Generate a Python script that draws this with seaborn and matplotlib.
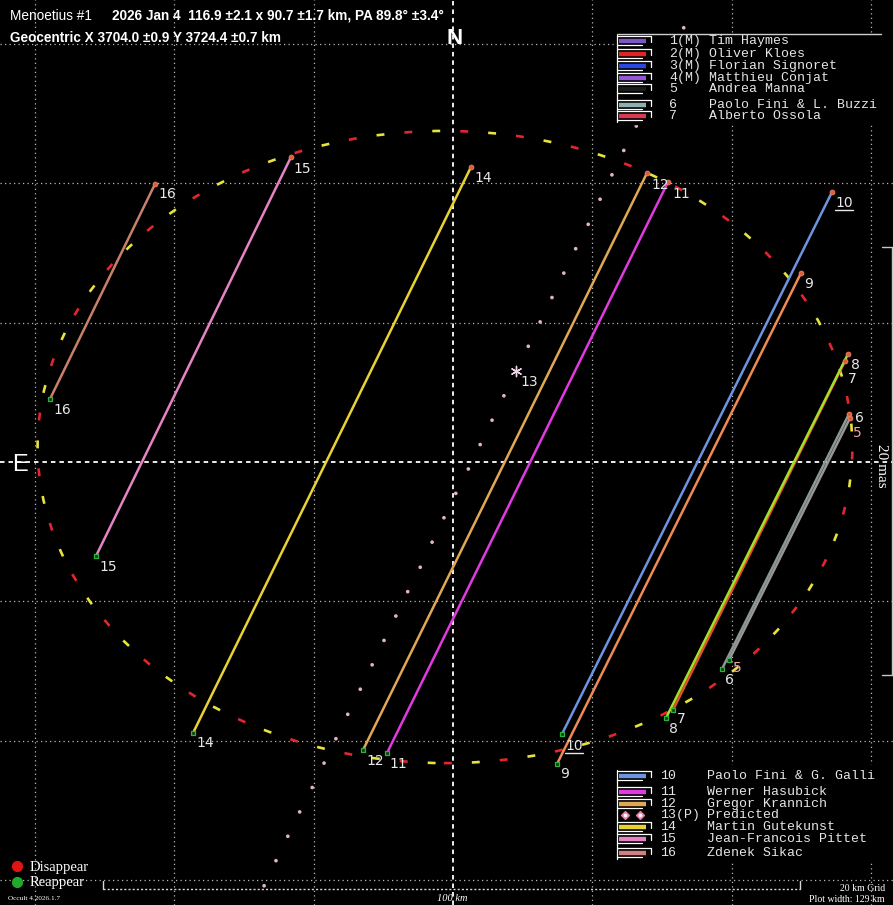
import numpy as np
import pandas as pd
import matplotlib
matplotlib.use("Agg")
import matplotlib.pyplot as plt
import matplotlib.transforms as mtransforms
from matplotlib.patches import Ellipse, Rectangle
import seaborn as sns

# ---------------- chords (km on the sky plane; x to the right, y north) ----------------
chord_ids = ["6", "5", "7", "8", "9", "10", "11", "12", "14", "15", "16"]
chord_colors = ["#8c9898", "#979797", "#e2502e", "#a6e02c", "#f08a52", "#6c94e0",
                "#e03ae0", "#e0a852", "#e8d233", "#e484c4", "#c8806a"]
disappear_x = [56.81, 56.96, 56.24, 56.67, 49.93, 54.38, 30.85, 27.83, 2.58, -23.24, -42.75]
disappear_y = [6.89, 6.31, 14.49, 15.49, 27.12, 38.74, 40.17, 41.46, 42.32, 43.76, 39.89]
reappear_x = [38.59, 39.60, 31.56, 30.56, 14.92, 15.64, -9.47, -12.91, -37.30, -51.22, -57.82]
reappear_y = [-29.70, -28.41, -35.58, -36.73, -43.33, -39.02, -41.75, -41.32, -38.88, -13.49, 9.04]

# predicted track of the centre (13(P)) and the predicted position
predicted_x = [33.1, 31.4, 29.7, 28.0, 26.3, 24.5, 22.8, 21.1, 19.4, 17.6, 15.9, 14.2,
               12.5, 10.8, 7.3, 5.6, 3.9, 2.2, 0.4, -1.3, -3.0, -4.7, -6.5, -8.2,
               -9.9, -11.6, -13.3, -15.1, -16.8, -18.5, -20.2, -22.0, -23.7, -25.4, -27.1]
predicted_y = [62.3, 58.8, 55.2, 51.7, 48.2, 44.7, 41.2, 37.7, 34.1, 30.6, 27.1, 23.6,
               20.1, 16.6, 9.5, 6.0, 2.5, -1.0, -4.5, -8.0, -11.5, -15.1, -18.6, -22.1,
               -25.6, -29.1, -32.6, -36.2, -39.7, -43.2, -46.7, -50.2, -53.7, -57.2, -60.8]
predicted_star_x = [9.04]
predicted_star_y = [13.06]

# fitted profile: 116.9 x 90.7 km, PA 89.8 deg
ellipse_center = (-1.15, 2.15)
ellipse_major = 116.9
ellipse_minor = 90.7
ellipse_pa = 89.8

grid_km = 20
scale_bar_km = 100
mas20_km = 61.4

# observer key
key_top_nums = ["1(M)", "2(M)", "3(M)", "4(M)", "5", "6", "7"]
key_top_names = ["Tim Haymes", "Oliver Kloes", "Florian Signoret", "Matthieu Conjat",
                 "Andrea Manna", "Paolo Fini & L. Buzzi", "Alberto Ossola"]
key_top_colors = ["#7c56c4", "#e02424", "#2a48e0", "#9458d4", "#1a1a1a", "#8fb0b0", "#d83a52"]
key_bot_nums = ["10", "11", "12", "13(P)", "14", "15", "16"]
key_bot_names = ["Paolo Fini & G. Galli", "Werner Hasubick", "Gregor Krannich", "Predicted",
                 "Martin Gutekunst", "Jean-Francois Pittet", "Zdenek Sikac"]
key_bot_colors = ["#6c94e0", "#e03ae0", "#e0a852", None, "#e8d233", "#e484c4", "#d08080"]

# ---------------- figure ----------------
sns.set_style("dark", {"axes.facecolor": "black", "figure.facecolor": "black"})
plt.rcParams["font.family"] = ["Liberation Sans", "DejaVu Sans"]

W, H = 893, 905
PX_PER_KM = 6.97
OX, OY = 453, 462  # pixel position of the plot origin

fig = plt.figure(figsize=(W / 100, H / 100), dpi=100, facecolor="black")
ax = fig.add_axes([0, 0, 1, 1])
ax.set_facecolor("black")
ax.set_xlim(-OX / PX_PER_KM, (W - OX) / PX_PER_KM)
ax.set_ylim(-(H - OY) / PX_PER_KM, OY / PX_PER_KM)
ax.axis("off")

# overlay in pixel units for the page furniture
lay = fig.add_axes([0, 0, 1, 1], zorder=5)
lay.set_xlim(0, W)
lay.set_ylim(H, 0)
lay.axis("off")
lay.patch.set_alpha(0)


def shifted(dx, dy):
    """Data transform shifted by dx, dy screen pixels (dy positive downwards)."""
    return ax.transData + mtransforms.ScaledTranslation(dx / 100, -dy / 100, fig.dpi_scale_trans)


# grid
for g in (-3, -2, -1, 1, 2, 3):
    ax.axvline(g * grid_km, color="#b8b8b8", lw=0.9, ls=(0, (1, 2.6)), zorder=1)
    ax.axhline(g * grid_km, color="#b8b8b8", lw=0.9, ls=(0, (1, 2.6)), zorder=1)
ax.axvline(0, color="white", lw=1.3, ls=(0, (2.5, 2.2)), zorder=1)
ax.axhline(0, color="white", lw=1.3, ls=(0, (2.5, 2.2)), zorder=1)

# fitted ellipse: alternating red / yellow dashes
for col, off in (("#e3262c", 0.0), ("#e8e23c", 10.6)):
    ax.add_patch(Ellipse(ellipse_center, ellipse_major, ellipse_minor,
                         angle=ellipse_pa - 90, fill=False, ec=col, lw=1.9,
                         ls=(off, (3.0, 18.2)), zorder=2))

# predicted track
sns.scatterplot(x=predicted_x, y=predicted_y, s=7, color="#e2b2c8", edgecolor="none",
                ax=ax, zorder=3, legend=False)
sns.scatterplot(x=predicted_star_x, y=predicted_star_y, marker=(6, 2, 0), s=55,
                color="#eed6e4", linewidth=1.0, ax=ax, zorder=3, legend=False)

# chords
rows = []
for cid, x0, y0, x1, y1 in zip(chord_ids, disappear_x, disappear_y, reappear_x, reappear_y):
    rows.append(dict(chord=cid, x=x0, y=y0, end="D"))
    rows.append(dict(chord=cid, x=x1, y=y1, end="R"))
chords = pd.DataFrame(rows)
palette = dict(zip(chord_ids, chord_colors))
sns.lineplot(data=chords, x="x", y="y", hue="chord", hue_order=chord_ids, units="chord",
             estimator=None, sort=False, palette=palette, legend=False, lw=1.8, ax=ax,
             zorder=4)
dis = chords[chords["end"] == "D"]
rea = chords[chords["end"] == "R"]
sns.scatterplot(data=dis, x="x", y="y", s=12, color="#d8603c", edgecolor="#f08060",
                linewidth=0.6, ax=ax, zorder=5, legend=False)
sns.scatterplot(data=rea, x="x", y="y", marker="s", s=12, color="#104010",
                edgecolor="#30b040", linewidth=0.9, ax=ax, zorder=5, legend=False)

# chord end labels
label_kw = dict(fontsize=10, color="#e8e8e8", family="DejaVu Sans", va="top", ha="left",
                zorder=6)
d_off = {"7": (3, 11), "6": (6, -3), "5": (3, 8), "16": (3, 3), "15": (2, 5),
         "12": (4, 5), "11": (4, 5)}
r_off = {"11": (2, 4), "10": (3, 5), "7": (4, 2), "5": (4, 1), "14": (3, 3), "9": (3, 3)}
for cid, x0, y0, x1, y1 in zip(chord_ids, disappear_x, disappear_y, reappear_x, reappear_y):
    col = "#f2a4ac" if cid == "5" else "#e8e8e8"
    kw = dict(label_kw, color=col)
    for (x, y, offs) in ((x0, y0, d_off), (x1, y1, r_off)):
        dx, dy = offs.get(cid, (3, 4))
        ax.text(x, y, cid, transform=shifted(dx, dy), **kw)
        if cid == "10":
            ax.plot([x, x + 2.6], [y, y], color="#e8e8e8", lw=1.0,
                    transform=shifted(dx, dy + 14), zorder=6)
ax.text(predicted_star_x[0], predicted_star_y[0], "13", transform=shifted(4, 4), **label_kw)

# 100 km scale bar along the bottom
sb_x0 = -50.2
sb_y = -(889 - OY) / PX_PER_KM
sb_tick = 8 / PX_PER_KM
ax.plot([sb_x0, sb_x0 + scale_bar_km], [sb_y, sb_y], color="#d8d8d8", lw=1.0,
        ls=(0, (1.5, 1.5)), zorder=6)
for xe in (sb_x0, sb_x0 + scale_bar_km):
    ax.plot([xe, xe], [sb_y, sb_y + sb_tick], color="#d8d8d8", lw=1.0, zorder=6)

# 20 mas bracket on the right
br_x = (892 - OX) / PX_PER_KM
br_c = 0.14
br_tick = 10 / PX_PER_KM
ax.plot([br_x, br_x], [br_c - mas20_km / 2, br_c + mas20_km / 2], color="#c8c8c8", lw=1.0,
        zorder=6)
for ye in (br_c - mas20_km / 2, br_c + mas20_km / 2):
    ax.plot([br_x - br_tick, br_x], [ye, ye], color="#c8c8c8", lw=1.0, zorder=6)

# ---------------- page text ----------------
lay.text(10, 20, "Menoetius #1", fontsize=9.8, color="white", va="baseline")
lay.text(112, 20, "2026 Jan 4  116.9 \u00b12.1 x 90.7 \u00b11.7 km, PA 89.8\u00b0 \u00b13.4\u00b0",
         fontsize=9.8, color="white", weight="bold", va="baseline")
lay.text(10, 42, "Geocentric X 3704.0 \u00b10.9 Y 3724.4 \u00b10.7 km", fontsize=9.8,
         color="white", weight="bold", va="baseline")
lay.text(455, 38, "N", fontsize=16, color="white", weight="bold", ha="center", va="center")
lay.text(20, 465, "E", fontsize=17, color="white", ha="center", va="center")
lay.text(881, 466, "20 mas", fontsize=11, color="white", family="Liberation Serif",
         rotation=270, ha="center", va="center")

# disappear / reappear key
lay.scatter([17], [866], s=50, color="#e01414", zorder=6)
lay.scatter([17], [882], s=50, color="#22a82a", zorder=6)
lay.text(30, 867, "Disappear", fontsize=10.5, color="white", family="Liberation Serif",
         va="center")
lay.text(30, 882, "Reappear", fontsize=10.5, color="white", family="Liberation Serif",
         va="center")
lay.text(8, 898, "Occult 4.2026.1.7", fontsize=5.2, color="white", family="Liberation Serif",
         va="center")
lay.text(452, 898, "100 km", fontsize=7.5, color="white", family="Liberation Serif",
         style="italic", ha="center", va="center")
lay.text(885, 888, "20 km Grid", fontsize=7, color="white", family="Liberation Serif",
         ha="right", va="center")
lay.text(885, 899, "Plot width: 129 km", fontsize=7, color="white", family="Liberation Serif",
         ha="right", va="center")


# ---------------- observer key boxes ----------------
def key_block(y_rows, nums, names, colors, x_num, x_name, top, bottom):
    lay.add_patch(Rectangle((614, top), W - 614, bottom - top, color="black", zorder=6))
    lay.plot([617, 617], [y_rows[0] - 6, y_rows[-1] + 6], color="white", lw=0.9, zorder=7)
    for y, n, name, c in zip(y_rows, nums, names, colors):
        if c is None:
            lay.scatter([625, 640], [y, y], marker="D", s=16, color="#f07aa8", zorder=7)
            lay.scatter([625, 640], [y, y], marker="o", s=3, color="white", zorder=8)
        else:
            lay.plot([617, 651], [y - 5, y - 5], color="white", lw=0.9, zorder=7)
            lay.plot([619, 646], [y, y], color=c, lw=3.2, solid_capstyle="butt", zorder=7)
            lay.plot([617, 642], [y + 4, y + 4], color="white", lw=0.9, zorder=7)
            lay.plot([651, 651], [y - 5, y + 1], color="white", lw=0.9, zorder=7)
        lay.text(x_num, y, n, fontsize=9.5, color="#e6e6e6", family="Liberation Mono",
                 va="center", zorder=8)
        lay.text(x_name, y, name, fontsize=9.5, color="#e6e6e6", family="Liberation Mono",
                 va="center", zorder=8)


key_block([41, 54, 66, 78, 89, 105, 116], key_top_nums, key_top_names, key_top_colors,
          669, 709, 34, 124)
lay.plot([617, 881], [34, 34], color="#cfcfcf", lw=1.0, zorder=8)
key_block([776, 792, 804, 815, 827, 839, 853], key_bot_nums, key_bot_names, key_bot_colors,
          660, 707, 765, 861)

fig.savefig("out.png", dpi=100, facecolor="black")
